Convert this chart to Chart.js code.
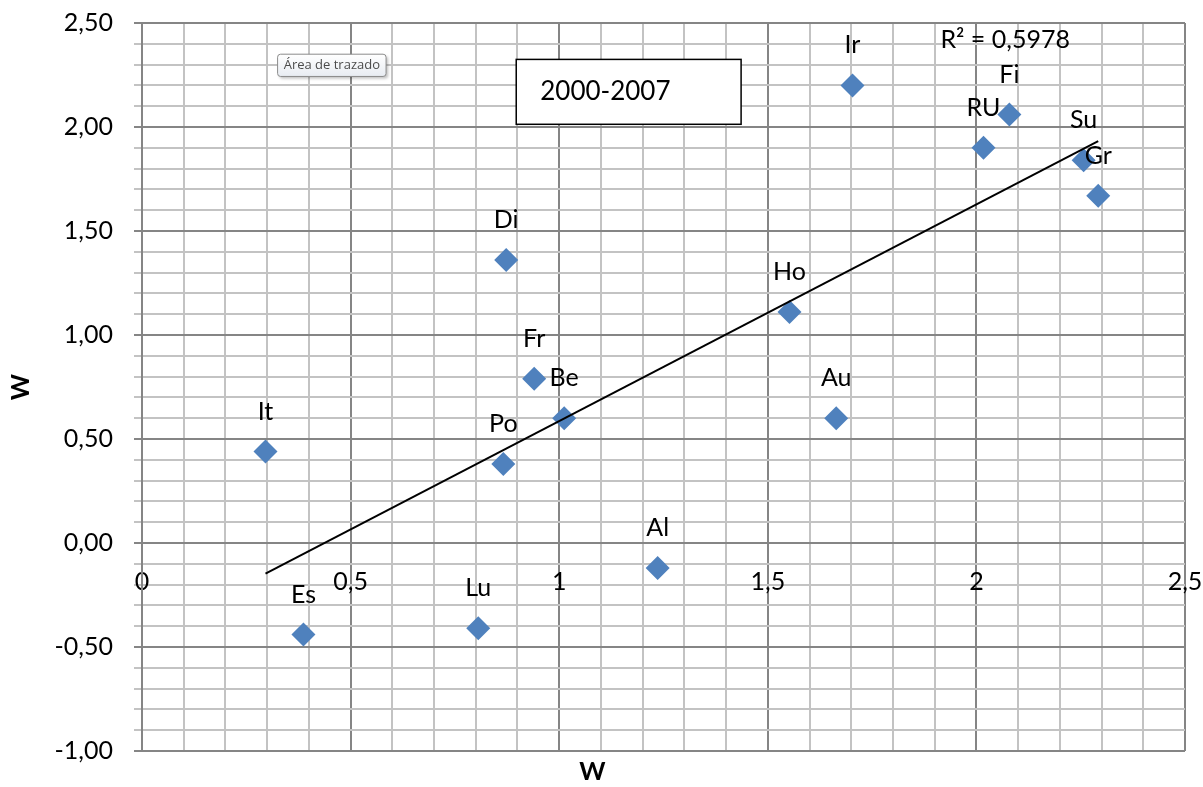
<!DOCTYPE html>
<html>
<head>
<meta charset="utf-8">
<script src="https://cdn.jsdelivr.net/npm/chart.js@4.4.0/dist/chart.umd.min.js"></script>
<style>
  html, body { margin: 0; padding: 0; background: #fff; }
</style>
</head>
<body>
<canvas id="myChart" width="1203" height="787"></canvas>
<script>
// data
const paises = ["It", "Es", "Lu", "Po", "Di", "Fr", "Be", "Al", "Ho", "Au", "Ir", "RU", "Fi", "Su", "Gr"];
const valoresX = [0.296, 0.387, 0.806, 0.866, 0.873, 0.94, 1.012, 1.236, 1.552, 1.664, 1.703, 2.017, 2.079, 2.257, 2.292];
const valoresY = [0.44, -0.44, -0.41, 0.38, 1.36, 0.79, 0.60, -0.12, 1.11, 0.60, 2.20, 1.90, 2.06, 1.84, 1.67];
const ticksX = ["0", "0,5", "1", "1,5", "2", "2,5"];
const ticksY = ["-1,00", "-0,50", "0,00", "0,50", "1,00", "1,50", "2,00", "2,50"];
const periodo = "2000-2007";
const textoR2 = "R² = 0,5978";
const textoAyuda = "Área de trazado";

// linear trend (least squares)
const n = valoresX.length;
const mx = valoresX.reduce((a, b) => a + b, 0) / n;
const my = valoresY.reduce((a, b) => a + b, 0) / n;
let sxy = 0, sxx = 0;
for (let i = 0; i < n; i++) {
  sxy += (valoresX[i] - mx) * (valoresY[i] - my);
  sxx += (valoresX[i] - mx) * (valoresX[i] - mx);
}
const pendiente = sxy / sxx;
const origen = my - pendiente * mx;
const xMin = Math.min(...valoresX);
const xMax = Math.max(...valoresX);
const tendencia = [
  { x: xMin, y: origen + pendiente * xMin },
  { x: xMax, y: origen + pendiente * xMax },
];

const puntos = valoresX.map((x, i) => ({ x: x, y: valoresY[i] }));

// major grid every 0.5, minor every 0.1
function esMayor(v) {
  return Math.abs(v * 2 - Math.round(v * 2)) < 1e-6;
}
const gris = (ctx) => (esMayor(ctx.tick.value) ? "#858585" : "#c3c3c3");

const anotaciones = {
  id: "anotaciones",
  afterDatasetsDraw(chart) {
    const ctx = chart.ctx;
    const sx = chart.scales.x;
    const sy = chart.scales.y;
    ctx.save();

    // point labels
    ctx.font = "25px Lato";
    ctx.fillStyle = "#000";
    ctx.textAlign = "center";
    ctx.textBaseline = "middle";
    chart.getDatasetMeta(1).data.forEach((pt, i) => {
      ctx.fillText(paises[i], pt.x, pt.y - 40);
    });

    // R2 text
    ctx.fillText(textoR2, sx.getPixelForValue(2.069), sy.getPixelForValue(2.417));

    // period box
    const bx1 = sx.getPixelForValue(0.897), bx2 = sx.getPixelForValue(1.436);
    const by1 = sy.getPixelForValue(2.325), by2 = sy.getPixelForValue(2.013);
    ctx.fillStyle = "#fff";
    ctx.fillRect(bx1, by1, bx2 - bx1, by2 - by1);
    ctx.strokeStyle = "#000";
    ctx.lineWidth = 1.5;
    ctx.strokeRect(bx1, by1, bx2 - bx1, by2 - by1);
    ctx.fillStyle = "#000";
    ctx.font = "26px Lato";
    ctx.textAlign = "left";
    ctx.fillText(periodo, bx1 + 24, (by1 + by2) / 2);

    // excel tooltip
    const tx1 = sx.getPixelForValue(0.325), tx2 = sx.getPixelForValue(0.585);
    const ty1 = sy.getPixelForValue(2.35), ty2 = sy.getPixelForValue(2.243);
    ctx.shadowColor = "rgba(0,0,0,0.25)";
    ctx.shadowOffsetX = 2;
    ctx.shadowOffsetY = 2;
    ctx.shadowBlur = 3;
    const g = ctx.createLinearGradient(0, ty1, 0, ty2);
    g.addColorStop(0, "#ffffff");
    g.addColorStop(1, "#e8ecf2");
    ctx.fillStyle = g;
    ctx.beginPath();
    ctx.roundRect(tx1, ty1, tx2 - tx1, ty2 - ty1, 3);
    ctx.fill();
    ctx.shadowColor = "transparent";
    ctx.strokeStyle = "#8c8c8c";
    ctx.lineWidth = 1;
    ctx.stroke();
    ctx.fillStyle = "#4c4c4c";
    ctx.font = "13px 'Open Sans'";
    ctx.textAlign = "center";
    ctx.fillText(textoAyuda, (tx1 + tx2) / 2, (ty1 + ty2) / 2);

    ctx.restore();
  },
};

const ctx = document.getElementById("myChart");
const myChart = new Chart(ctx, {
  type: "scatter",
  data: {
    datasets: [
      {
        label: "Tendencia",
        data: tendencia,
        showLine: true,
        borderColor: "#000",
        borderWidth: 2,
        pointRadius: 0,
        order: 0,
      },
      {
        label: "Paises",
        data: puntos,
        pointStyle: "rectRot",
        pointRadius: 12,
        backgroundColor: "#4f81bd",
        borderColor: "#4f81bd",
        borderWidth: 0,
        order: 1,
      },
    ],
  },
  options: {
    responsive: false,
    animation: false,
    events: [],
    layout: { padding: { top: 23, right: 18, bottom: 0, left: 0 } },
    plugins: {
      legend: { display: false },
      tooltip: { enabled: false },
      title: {
        display: true,
        text: "W",
        position: "bottom",
        color: "#000",
        font: { family: "Lato", size: 25, weight: "bold" },
        padding: { top: 6, bottom: 0 },
      },
    },
    scales: {
      x: {
        type: "linear",
        position: { y: 0 },
        min: 0,
        max: 2.5,
        afterFit: (scale) => {
          scale.paddingLeft = 0;
          scale.paddingRight = 0;
          scale.paddingTop = 0;
          scale.paddingBottom = 0;
        },
        ticks: {
          stepSize: 0.1,
          autoSkip: false,
          maxRotation: 0,
          padding: 24,
          color: "#000",
          font: { family: "Lato", size: 25 },
          callback: (v) => (esMayor(v) ? ticksX[Math.round(v * 2)] : ""),
        },
        grid: { color: gris, lineWidth: 2, drawTicks: false },
        border: { color: "#858585", width: 2 },
      },
      y: {
        type: "linear",
        min: -1,
        max: 2.5,
        afterFit: (scale) => {
          scale.width = 142;
          scale.paddingTop = 0;
          scale.paddingBottom = 0;
        },
        ticks: {
          stepSize: 0.1,
          autoSkip: false,
          padding: 21,
          color: "#000",
          font: { family: "Lato", size: 25 },
          callback: (v) => (esMayor(v) ? ticksY[Math.round((v + 1) * 2)] : ""),
        },
        grid: { color: gris, lineWidth: 2, tickLength: 8 },
        border: { color: "#858585", width: 2 },
        title: {
          display: true,
          text: "W",
          color: "#000",
          font: { family: "Lato", size: 25, weight: "bold" },
          padding: { top: 6, bottom: 0 },
        },
      },
    },
  },
  plugins: [anotaciones],
});
</script>
</body>
</html>
